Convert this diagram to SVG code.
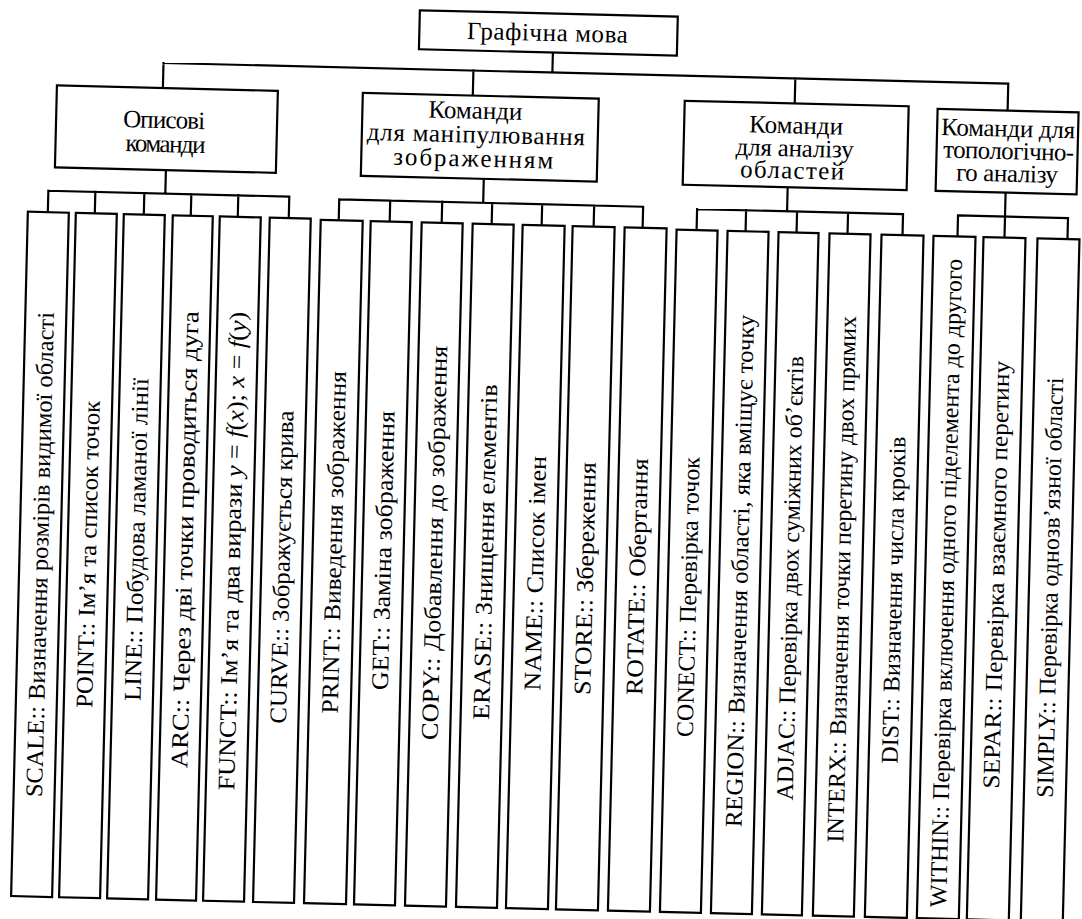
<svg xmlns="http://www.w3.org/2000/svg" width="1082" height="919" viewBox="0 0 1082 919">
  <style>
    .box { fill: #fff; stroke: #000; stroke-width: 2.2; }
    .conn { fill: none; stroke: #000; stroke-width: 2.2; stroke-linecap: square; }
    text { font-family: "Liberation Serif", "Times New Roman", serif; fill: #000; }
    .h { font-size: 25px; text-anchor: middle; }
    .leaf { font-size: 24px; text-anchor: middle; }
    .leaf.s { text-anchor: start; }
    .it { font-style: italic; }
  </style>
  <rect width="1082" height="919" fill="#fff"/>
  <!-- whole chart is set slightly turned, as printed -->
  <g transform="rotate(1.4)">
    <g id="connectors" class="conn">
      <!-- root to categories -->
      <path d="M554 39V59M165 59H1010M165 59V84M475 59V84M797 59V84M1010 59V86"/>
      <!-- descriptive commands -->
      <path d="M170 166V189.5M53 189.5H294M53 189.5V211M100 189.5V211M149 189.5V211M196 189.5V211M243 189.5V211M294 189.5V211"/>
      <!-- image manipulation -->
      <path d="M488 167V191M344 191H648M344 191V212M395 191V212M447 191V212M497 191V212M547 191V212M599 191V212M648 191V212"/>
      <!-- area analysis -->
      <path d="M792 168V192M702 192H908M702 192V213M751 192V213M802 192V213M853 192V213M908 192V213"/>
      <!-- topological analysis -->
      <path d="M1010 168V192M963 192H1073M963 192V213M1010 192V213M1073 192V213"/>
    </g>

    <g id="root">
      <rect class="box" x="420" y="0" width="258" height="39"/>
      <text class="h" x="548" y="27.5" textLength="161" lengthAdjust="spacing">Графічна мова</text>
    </g>

    <g id="cat-descriptive">
      <rect class="box" x="59" y="84" width="221" height="82"/>
      <text class="h" x="167" y="124" textLength="82" lengthAdjust="spacing">Описові</text>
      <text class="h" x="169" y="148" textLength="80" lengthAdjust="spacing">команди</text>
    </g>
    <g id="cat-manipulation">
      <rect class="box" x="365" y="84" width="236" height="83"/>
      <text class="h" x="478" y="107" textLength="94" lengthAdjust="spacing">Команди</text>
      <text class="h" x="479" y="131" textLength="218" lengthAdjust="spacing">для маніпулювання</text>
      <text class="h" x="477" y="155" textLength="160" lengthAdjust="spacing">зображенням</text>
    </g>
    <g id="cat-areas">
      <rect class="box" x="687" y="84" width="224" height="84"/>
      <text class="h" x="799" y="114" textLength="94" lengthAdjust="spacing">Команди</text>
      <text class="h" x="798" y="137" textLength="118" lengthAdjust="spacing">для аналізу</text>
      <text class="h" x="796" y="159" textLength="104" lengthAdjust="spacing">областей</text>
    </g>
    <g id="cat-topology">
      <rect class="box" x="940" y="86" width="141" height="82"/>
      <text class="h" x="1011" y="112" textLength="134" lengthAdjust="spacing">Команди для</text>
      <text class="h" x="1012" y="134.5" textLength="131" lengthAdjust="spacing">топологічно-</text>
      <text class="h" x="1011" y="157" textLength="102" lengthAdjust="spacing">го аналізу</text>
    </g>

    <!-- leaf commands: tall boxes with vertical captions -->
    <g id="scale"><rect class="box" x="33" y="211" width="41" height="684.5"/><text class="leaf s" transform="translate(61.5 796) rotate(-90) scale(1.02 1)">SCALE:: Визначення розмірів видимої області</text></g>
    <g id="point"><rect class="box" x="81" y="211" width="41" height="684.5"/><text class="leaf" transform="translate(109.5 552) rotate(-90) scale(1.03 1)">POINT:: Ім’я та список точок</text></g>
    <g id="line"><rect class="box" x="129" y="211" width="41" height="684.5"/><text class="leaf" transform="translate(157.5 536) rotate(-90) scale(1.05 1)">LINE:: Побудова ламаної лінії</text></g>
    <g id="arc"><rect class="box" x="178" y="211" width="40" height="684.5"/><text class="leaf s" transform="translate(206 763.5) rotate(-90) scale(1.11 1)">ARC:: Через дві точки проводиться дуга</text></g>
    <g id="funct"><rect class="box" x="225" y="211" width="41" height="684.5"/><text class="leaf s" transform="translate(253.5 784.5) rotate(-90) scale(1.09 1)">FUNCT:: Ім’я та два вирази <tspan class="it">y</tspan> = <tspan class="it">f</tspan>(<tspan class="it">x</tspan>); <tspan class="it">x</tspan> = <tspan class="it">f</tspan>(<tspan class="it">y</tspan>)</text></g>
    <g id="curve"><rect class="box" x="275" y="211" width="41" height="684.5"/><text class="leaf" transform="translate(303.5 560) rotate(-90) scale(1.03 1)">CURVE:: Зображується крива</text></g>

    <g id="print"><rect class="box" x="326" y="212" width="42" height="683.5"/><text class="leaf" transform="translate(355 534) rotate(-90) scale(1.06 1)">PRINT:: Виведення зображення</text></g>
    <g id="get"><rect class="box" x="376" y="212" width="41" height="683.5"/><text class="leaf" transform="translate(404.5 541) rotate(-90) scale(1.08 1)">GET:: Заміна зображення</text></g>
    <g id="copy"><rect class="box" x="427" y="212" width="41" height="683.5"/><text class="leaf" transform="translate(455.5 532) rotate(-90) scale(1.1 1)">COPY:: Добавлення до зображення</text></g>
    <g id="erase"><rect class="box" x="478" y="212" width="41" height="683.5"/><text class="leaf" transform="translate(506.5 540) rotate(-90) scale(1.1 1)">ERASE:: Знищення елементів</text></g>
    <g id="name"><rect class="box" x="528" y="212" width="42" height="683.5"/><text class="leaf" transform="translate(557 560) rotate(-90) scale(1.08 1)">NAME:: Список імен</text></g>
    <g id="store"><rect class="box" x="578" y="212" width="42" height="683.5"/><text class="leaf" transform="translate(607 564) rotate(-90) scale(1.08 1)">STORE:: Збереження</text></g>
    <g id="rotate"><rect class="box" x="630" y="212" width="42" height="683.5"/><text class="leaf" transform="translate(659 561) rotate(-90) scale(1.08 1)">ROTATE:: Обертання</text></g>

    <g id="conect"><rect class="box" x="682" y="213" width="41" height="682.5"/><text class="leaf" transform="translate(710.5 580) rotate(-90)">CONECT:: Перевірка точок</text></g>
    <g id="region"><rect class="box" x="733" y="213" width="41" height="682.5"/><text class="leaf s" transform="translate(761.5 809) rotate(-90) scale(1.03 1)">REGION:: Визначення області, яка вміщує точку</text></g>
    <g id="adjac"><rect class="box" x="784" y="213" width="40" height="682.5"/><text class="leaf s" transform="translate(812 781) rotate(-90)">ADJAC:: Перевірка двох суміжних об’єктів</text></g>
    <g id="interx"><rect class="box" x="835" y="213" width="41" height="682.5"/><text class="leaf s" transform="translate(863.5 822) rotate(-90)">INTERX:: Визначення точки перетину двох прямих</text></g>
    <g id="dist"><rect class="box" x="887" y="213" width="42" height="682.5"/><text class="leaf" transform="translate(916 578) rotate(-90)">DIST:: Визначення числа кроків</text></g>

    <g id="within"><rect class="box" x="939" y="213" width="42" height="682.5"/><text class="leaf s" transform="translate(968 884) rotate(-90)">WITHIN:: Перевірка включення одного піделемента до другого</text></g>
    <g id="separ"><rect class="box" x="989" y="213" width="42" height="682.5"/><text class="leaf s" transform="translate(1018 764) rotate(-90) scale(1.06 1)">SEPAR:: Перевірка взаємного перетину</text></g>
    <g id="simply"><rect class="box" x="1043" y="213" width="42" height="682.5"/><text class="leaf s" transform="translate(1072 772) rotate(-90)">SIMPLY:: Перевірка однозв’язної області</text></g>
  </g>
</svg>
